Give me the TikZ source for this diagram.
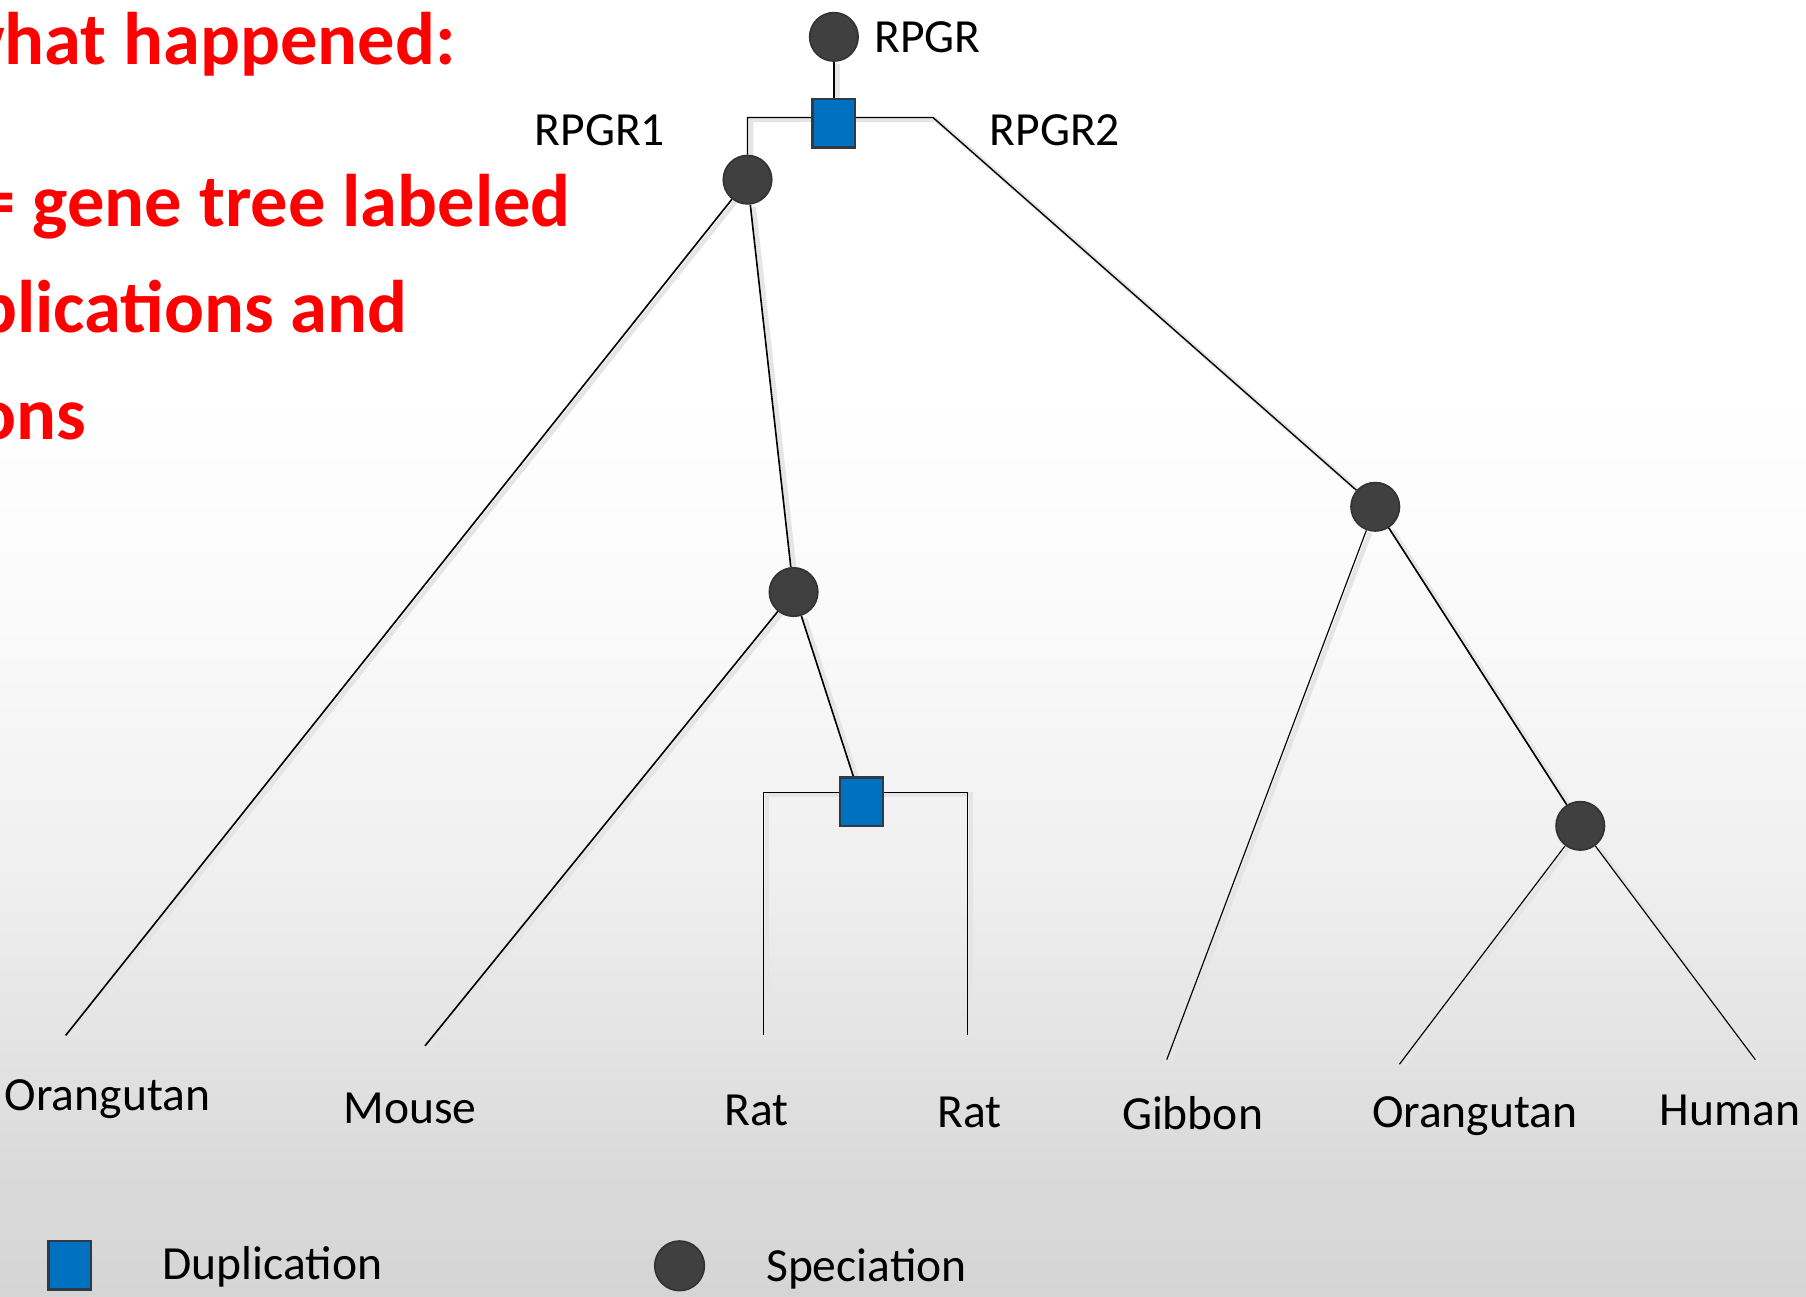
\documentclass[tikz,border=0pt]{standalone}
\usepackage{fontspec}
\setmainfont{Carlito}
\definecolor{specgray}{HTML}{404040}
\definecolor{specline}{HTML}{333333}
\definecolor{dupfill}{HTML}{0070C0}
\definecolor{dupline}{HTML}{2E3B47}
\definecolor{bgA}{HTML}{D5D5D5}
\definecolor{bgB}{HTML}{DADADA}
\definecolor{bgC}{HTML}{EFEFEF}
\definecolor{bgD}{HTML}{FAFAFA}
\definecolor{redtxt}{HTML}{FF0000}
% the filled path covers the shading's range 25bp..75bp
\pgfdeclareverticalshading{bgshade}{100bp}{color(0bp)=(bgA); color(25bp)=(bgA); color(30bp)=(bgB); color(41bp)=(bgC); color(51bp)=(bgD); color(60bp)=(white); color(100bp)=(white)}
\pgfdeclarelayer{background}
\pgfdeclarelayer{edges}
\pgfsetlayers{background,edges,main}
\tikzset{
  specnode/.style={circle, fill=specgray, draw=specline, line width=1.5pt, minimum size=42pt, inner sep=0pt},
  dupnode/.style={rectangle, fill=dupfill, draw=dupline, line width=2pt, minimum width=37pt, minimum height=42pt, inner sep=0pt},
  branch/.style={draw=black, line width=1.4pt, line join=miter,
    preaction={draw=black!10, line width=4pt, transform canvas={xshift=3pt,yshift=-2pt}}},
  thinbranch/.style={branch, line width=1pt},
  lab/.style={font=\fontsize{41.3}{48}\selectfont, inner sep=0pt, anchor=base west},
  headline/.style={font=\fontsize{64.7}{76}\selectfont\bfseries, text=redtxt, inner sep=0pt, anchor=base east}
}
\begin{document}
\begin{tikzpicture}[x=1pt,y=-1pt]
\useasboundingbox (0,0) rectangle (1568,1126);
\clip (0,0) rectangle (1568,1126);
\begin{pgfonlayer}{background}
\shade[shading=bgshade] (0,0) rectangle (1568,1126);
\end{pgfonlayer}

% red heading text (cut at the left edge, as in the reference)
\node[headline] (t1) at (396,56) {what happened:};
\node[headline] (t2) at (496,197) {= gene tree labeled};
\node[headline] (t3) at (354,289) {plications and};
\node[headline] (t4) at (75,382) {ons};

% tree nodes
\node[specnode] (root) at (724,32) {};
\node[lab] (rootlab) at (759,46) {RPGR};
\node[dupnode] (d1) at (724,107) {};
\coordinate (d1l) at (649,102);
\coordinate (d1r) at (810,102);
\node[specnode] (s1) at (649,156) {};
\node[lab] (l1) at (464,126) {RPGR1};
\node[lab] (l2) at (859,126) {RPGR2};
\node[specnode] (s2) at (1194,440) {};
\node[specnode] (s3) at (689,514) {};
\node[dupnode] (d2) at (748,696) {};
\coordinate (d2l) at (663,688);
\coordinate (d2r) at (840,688);
\node[specnode] (s4) at (1372,717) {};

% leaf ends
\coordinate (e1) at (57,899);
\coordinate (e2) at (369,908);
\coordinate (e3) at (663,899);
\coordinate (e4) at (840,899);
\coordinate (e5) at (1013,920);
\coordinate (e6) at (1215,924);
\coordinate (e7) at (1524,920);

% leaf labels
\node[lab] (n1) at (4,964) {Orangutan};
\node[lab] (n2) at (298,975) {Mouse};
\node[lab] (n3) at (629,977) {Rat};
\node[lab] (n4) at (814,978.5) {Rat};
\node[lab] (n5) at (974,981) {Gibbon};
\node[lab] (n6) at (1191,979) {Orangutan};
\node[lab] (n7) at (1441,977.5) {Human};

% branches
\begin{pgfonlayer}{edges}
\draw[branch] (root) -- (d1);
\draw[branch, line width=1.2pt] (s1) -- (d1l) -- (d1r) -- (s2);
\draw[branch] (s1) -- (e1);
\draw[branch] (s1) -- (s3);
\draw[branch] (s3) -- (e2);
\draw[branch] (s3) -- (d2);
\draw[thinbranch] (e3) -- (d2l) -- (d2r) -- (e4);
\draw[thinbranch] (s2) -- (e5);
\draw[branch] (s2) -- (s4);
\draw[thinbranch] (s4) -- (e6);
\draw[thinbranch] (s4) -- (e7);
\end{pgfonlayer}

% legend
\node[dupnode] (legdup) at (60.5,1098.5) {};
\node[lab] (legduplab) at (141,1111) {Duplication};
\node[specnode, minimum size=43pt] (legspec) at (590,1099) {};
\node[lab] (legspeclab) at (665,1113) {Speciation};
\end{tikzpicture}
\end{document}
